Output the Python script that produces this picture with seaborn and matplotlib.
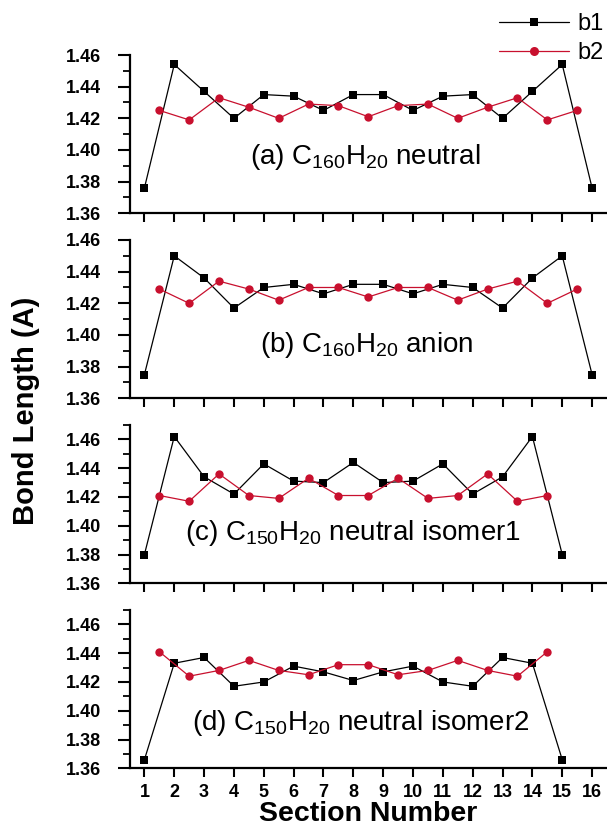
import pandas as pd
import matplotlib.pyplot as plt
from matplotlib.ticker import MultipleLocator, FormatStrFormatter
from matplotlib.lines import Line2D
import seaborn as sns

# Section positions (b1 on integers, b2 halfway between)
sec_16 = [1, 2, 3, 4, 5, 6, 7, 8, 9, 10, 11, 12, 13, 14, 15, 16]
mid_15 = [1.5, 2.5, 3.5, 4.5, 5.5, 6.5, 7.5, 8.5, 9.5, 10.5, 11.5, 12.5, 13.5, 14.5, 15.5]
sec_15 = [1, 2, 3, 4, 5, 6, 7, 8, 9, 10, 11, 12, 13, 14, 15]
mid_14 = [1.5, 2.5, 3.5, 4.5, 5.5, 6.5, 7.5, 8.5, 9.5, 10.5, 11.5, 12.5, 13.5, 14.5]

# (a) C160H20 neutral
a_b1 = [1.376, 1.454, 1.437, 1.420, 1.435, 1.434, 1.425, 1.435,
        1.435, 1.425, 1.434, 1.435, 1.420, 1.437, 1.454, 1.376]
a_b2 = [1.425, 1.419, 1.433, 1.427, 1.420, 1.429, 1.428, 1.421,
        1.428, 1.429, 1.420, 1.427, 1.433, 1.419, 1.425]
# (b) C160H20 anion
b_b1 = [1.375, 1.450, 1.436, 1.417, 1.430, 1.432, 1.426, 1.432,
        1.432, 1.426, 1.432, 1.430, 1.417, 1.436, 1.450, 1.375]
b_b2 = [1.429, 1.420, 1.434, 1.429, 1.422, 1.430, 1.430, 1.424,
        1.430, 1.430, 1.422, 1.429, 1.434, 1.420, 1.429]
# (c) C150H20 neutral isomer1
c_b1 = [1.380, 1.462, 1.434, 1.422, 1.443, 1.431, 1.430, 1.444,
        1.430, 1.431, 1.443, 1.422, 1.434, 1.462, 1.380]
c_b2 = [1.421, 1.417, 1.436, 1.421, 1.419, 1.433, 1.421,
        1.421, 1.433, 1.419, 1.421, 1.436, 1.417, 1.421]
# (d) C150H20 neutral isomer2
d_b1 = [1.366, 1.433, 1.437, 1.417, 1.420, 1.431, 1.427, 1.421,
        1.427, 1.431, 1.420, 1.417, 1.437, 1.433, 1.366]
d_b2 = [1.441, 1.424, 1.428, 1.435, 1.428, 1.425, 1.432,
        1.432, 1.425, 1.428, 1.435, 1.428, 1.424, 1.441]

labels = [r'(a) C$_{160}$H$_{20}$ neutral',
          r'(b) C$_{160}$H$_{20}$ anion',
          r'(c) C$_{150}$H$_{20}$ neutral isomer1',
          r'(d) C$_{150}$H$_{20}$ neutral isomer2']

panels = [
    (sec_16, a_b1, mid_15, a_b2, 1.46, (8.4, 1.3956)),
    (sec_16, b_b1, mid_15, b_b2, 1.46, (8.45, 1.3937)),
    (sec_15, c_b1, mid_14, c_b2, 1.47, (8.0, 1.3949)),
    (sec_15, d_b1, mid_14, d_b2, 1.47, (8.25, 1.3915)),
]

sns.set_style('ticks')
plt.rcParams['font.family'] = ['Liberation Sans', 'DejaVu Sans']
plt.rcParams['mathtext.fontset'] = 'custom'
plt.rcParams['mathtext.rm'] = 'Liberation Sans'
plt.rcParams['mathtext.default'] = 'regular'
for key in ['text.color', 'axes.labelcolor', 'xtick.color', 'ytick.color',
            'axes.edgecolor']:
    plt.rcParams[key] = 'black'

black = '#000000'
red = '#C8102E'

W, H = 607, 833
fig = plt.figure(figsize=(W / 100, H / 100), dpi=100)
left = 129.5 / W
width = 1 - left
height = 158.3 / H
bottoms_px = [213.3, 398.3, 583.3, 768.3]

for i, (x1, y1, x2, y2, ytop, tpos) in enumerate(panels):
    ax = fig.add_axes([left, 1 - bottoms_px[i] / H, width, height])
    df1 = pd.DataFrame({'x': x1, 'y': y1})
    df2 = pd.DataFrame({'x': x2, 'y': y2})
    sns.lineplot(data=df1, x='x', y='y', ax=ax, color=black, marker='s',
                 markersize=5.8, markeredgewidth=0, linewidth=0.9)
    sns.lineplot(data=df2, x='x', y='y', ax=ax, color=red, marker='o',
                 markersize=6, markeredgewidth=0, linewidth=0.9)
    ax.set_xlim(0.5, 16.5)
    ax.set_ylim(1.36, ytop)
    ax.set_xticks(sec_16)
    ax.yaxis.set_minor_locator(MultipleLocator(0.01))
    ax.set_yticks([1.36, 1.38, 1.40, 1.42, 1.44, 1.46])
    ax.yaxis.set_major_formatter(FormatStrFormatter('%.2f'))
    sns.despine(ax=ax)
    for s in ['left', 'bottom']:
        ax.spines[s].set_linewidth(1.6)
    ax.tick_params(axis='x', which='major', direction='out', length=6.5,
                   width=1.5, labelsize=13, pad=5)
    ax.tick_params(axis='y', which='major', direction='out', length=8.5,
                   width=1.5, labelsize=13, pad=12)
    ax.tick_params(axis='y', which='minor', direction='out', length=5, width=1.3)
    for lab in ax.get_yticklabels():
        lab.set_fontweight('bold')
    ax.set_xlabel('')
    ax.set_ylabel('')
    if i < 3:
        ax.set_xticklabels([])
    else:
        for lab in ax.get_xticklabels():
            lab.set_fontweight('bold')
        ax.set_xlabel('Section Number', fontsize=20.5, fontweight='bold', labelpad=0)
    ax.text(tpos[0], tpos[1], labels[i], ha='center', va='center', fontsize=20)
    ax.patch.set_alpha(0)

fig.text(0.043, 1 - 411 / H, 'Bond Length (A)', rotation=90, ha='center',
         va='center', fontsize=21, fontweight='bold')

handles = [Line2D([], [], color=black, marker='s', markersize=6, markeredgewidth=0,
                  linewidth=0.9, label='b1'),
           Line2D([], [], color=red, marker='o', markersize=6.5, markeredgewidth=0,
                  linewidth=0.9, label='b2')]
fig.legend(handles=handles, loc='upper right', bbox_to_anchor=(0.995, 0.984),
           frameon=False, fontsize=17, handlelength=3.0, handletextpad=0.35,
           borderpad=0, borderaxespad=0, labelspacing=0.3)

fig.savefig('out.png', dpi=100)
